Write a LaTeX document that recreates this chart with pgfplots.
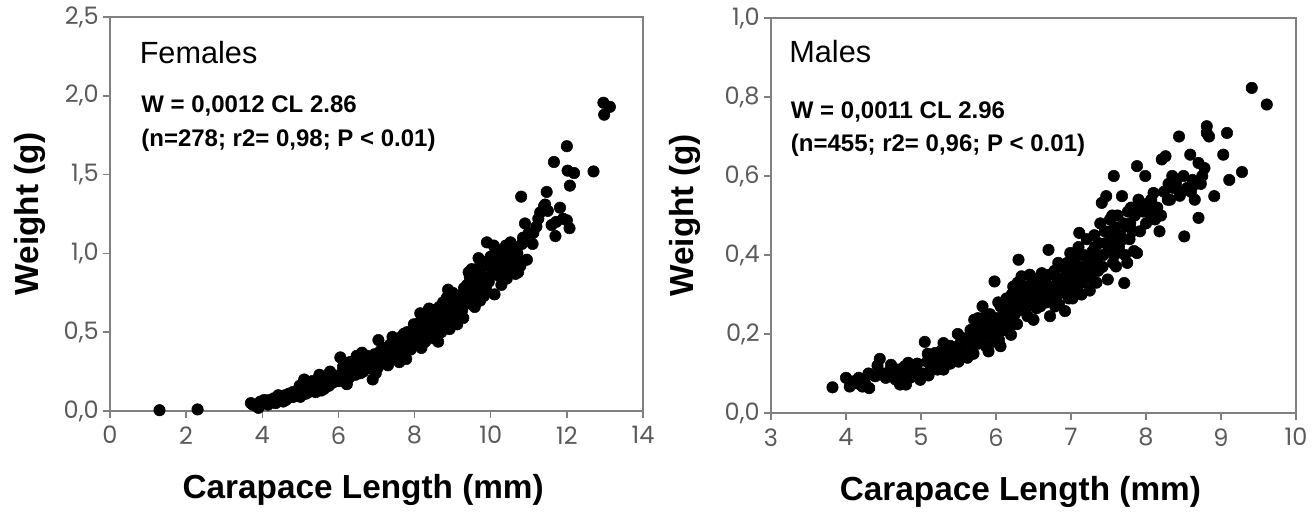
\documentclass[border=0pt]{standalone}
\usepackage{fontspec}
\setmainfont{Liberation Sans}
\newfontfamily\tickfont{Poppins}
\usepackage{pgfplots}
\pgfplotsset{compat=1.18}
\usepackage{pgfplotstable}
\definecolor{axgray}{RGB}{128,128,128}
\definecolor{ticktext}{RGB}{90,90,90}

\pgfplotstableread{
x y
1.3 0.005
2.3 0.01
3.7 0.05
3.75 0.04
3.85 0.03
3.9 0.02
3.95 0.06
4.0 0.05
4.05 0.07
4.1 0.06
4.15 0.04
4.2 0.07
4.25 0.06
4.3 0.08
4.35 0.05
4.4 0.07
4.45 0.09
4.5 0.08
4.55 0.06
4.6 0.10
4.65 0.08
4.7 0.11
4.75 0.09
4.8 0.12
4.85 0.10
4.9 0.11
4.95 0.13
5.0 0.09
5.05 0.12
5.1 0.20
5.12 0.15
5.15 0.11
5.2 0.14
5.25 0.17
5.3 0.13
5.35 0.16
5.4 0.12
5.45 0.18
5.5 0.23
5.52 0.15
5.55 0.13
5.6 0.19
5.65 0.17
5.7 0.21
5.75 0.16
5.8 0.20
5.85 0.18
5.9 0.22
5.95 0.19
6.0 0.21
6.05 0.34
6.08 0.24
6.1 0.20
6.15 0.23
6.2 0.26
6.25 0.22
6.3 0.31
6.35 0.25
6.4 0.28
6.45 0.23
6.5 0.30
6.55 0.27
6.6 0.33
6.65 0.25
6.7 0.29
6.75 0.35
6.8 0.31
6.85 0.27
6.9 0.20
6.92 0.33
6.95 0.36
7.0 0.30
7.05 0.45
7.08 0.34
7.1 0.38
7.15 0.32
7.2 0.40
7.25 0.35
7.3 0.29
7.35 0.42
7.4 0.37
7.45 0.33
7.5 0.44
7.55 0.39
7.6 0.31
7.65 0.47
7.7 0.41
7.75 0.36
7.8 0.50
7.85 0.44
7.9 0.39
7.95 0.48
8.0 0.42
8.05 0.52
8.1 0.46
8.15 0.62
8.2 0.55
8.22 0.43
8.25 0.50
8.3 0.58
8.35 0.47
8.4 0.60
8.45 0.53
8.5 0.64
8.55 0.56
8.6 0.49
8.65 0.66
8.7 0.50
8.72 0.60
8.75 0.69
8.8 0.58
8.85 0.72
8.9 0.63
8.95 0.55
9.0 0.75
9.05 0.67
9.1 0.61
9.15 0.73
9.2 0.70
9.25 0.64
9.3 0.78
9.35 0.68
9.4 0.74
9.45 0.85
9.5 0.90
9.52 0.72
9.55 0.80
9.6 0.76
9.65 0.83
9.7 0.87
9.72 0.70
9.75 0.79
9.8 0.92
9.85 0.85
9.9 1.07
9.92 0.95
9.95 0.82
10.0 0.98
10.05 0.88
10.1 0.74
10.12 1.03
10.15 0.93
10.2 0.86
10.25 1.00
10.3 0.95
10.35 0.89
10.4 1.05
10.45 0.98
10.5 0.91
10.55 1.02
10.6 0.96
10.65 0.87
10.7 1.00
10.75 0.94
10.8 1.36
10.82 1.06
10.85 1.10
10.9 1.19
10.95 0.96
11.0 1.13
11.1 1.06
11.12 1.13
11.2 1.17
11.25 1.22
11.3 1.26
11.4 1.30
11.43 1.31
11.47 1.39
11.5 1.27
11.6 1.18
11.66 1.58
11.7 1.11
11.72 1.20
11.82 1.29
11.9 1.22
12.0 1.68
12.0 1.21
12.02 1.525
12.07 1.16
12.08 1.43
12.19 1.51
12.7 1.52
12.96 1.956
12.98 1.88
13.13 1.93
6.02 0.19
6.12 0.28
6.28 0.21
6.42 0.32
6.58 0.24
6.72 0.34
6.88 0.30
7.02 0.27
7.18 0.36
7.32 0.40
7.48 0.35
7.62 0.43
7.72 0.49
7.88 0.40
8.02 0.47
8.12 0.56
8.28 0.44
8.42 0.52
8.58 0.61
8.68 0.54
8.82 0.66
8.98 0.60
9.08 0.71
9.22 0.66
9.38 0.80
9.48 0.76
9.62 0.90
9.78 0.84
9.88 0.77
10.02 0.91
10.18 0.97
10.32 1.02
10.48 0.95
10.62 1.04
10.78 0.92
4.42 0.10
4.62 0.07
4.82 0.09
5.02 0.14
5.22 0.12
5.42 0.15
5.62 0.14
5.82 0.23
8.52 0.46
8.92 0.52
9.28 0.59
6.62 0.37
6.98 0.24
7.42 0.47
7.78 0.33
8.18 0.40
8.38 0.65
8.62 0.44
8.88 0.77
9.12 0.55
9.42 0.88
9.58 0.66
9.68 0.97
9.82 0.73
10.08 1.05
10.28 0.80
10.52 1.07
10.72 0.88
10.42 0.84
9.02 0.69
8.32 0.53
7.98 0.55
7.58 0.40
7.22 0.30
6.48 0.35
6.22 0.17
5.78 0.25
5.32 0.19
4.98 0.16
}\females

\pgfplotstableread{
x y
3.82 0.065
4.00 0.089
4.05 0.067
4.10 0.080
4.17 0.089
4.22 0.067
4.25 0.078
4.30 0.100
4.31 0.063
4.39 0.093
4.45 0.137
4.50 0.100
4.53 0.089
4.58 0.105
4.60 0.122
4.63 0.095
4.66 0.085
4.69 0.110
4.72 0.072
4.75 0.100
4.78 0.118
4.80 0.072
4.83 0.127
4.86 0.090
4.88 0.105
4.91 0.110
4.95 0.125
4.99 0.084
5.02 0.100
5.05 0.180
5.08 0.130
5.10 0.095
5.13 0.118
5.16 0.140
5.19 0.152
5.22 0.110
5.25 0.125
5.28 0.160
5.30 0.110
5.30 0.177
5.33 0.140
5.36 0.150
5.39 0.125
5.41 0.135
5.44 0.165
5.47 0.145
5.49 0.200
5.50 0.130
5.52 0.175
5.54 0.160
5.57 0.150
5.60 0.185
5.62 0.140
5.65 0.186
5.68 0.165
5.71 0.236
5.73 0.200
5.75 0.175
5.78 0.215
5.80 0.190
5.82 0.270
5.84 0.230
5.86 0.170
5.88 0.210
5.90 0.156
5.92 0.250
5.93 0.203
5.96 0.225
5.98 0.333
6.00 0.240
6.02 0.200
6.04 0.185
6.06 0.270
6.06 0.169
6.08 0.230
6.10 0.255
6.12 0.210
6.14 0.290
6.16 0.240
6.18 0.265
6.20 0.198
6.22 0.280
6.23 0.320
6.25 0.250
6.27 0.300
6.28 0.225
6.30 0.388
6.31 0.270
6.33 0.310
6.34 0.346
6.36 0.260
6.38 0.290
6.40 0.320
6.42 0.245
6.44 0.300
6.46 0.275
6.48 0.330
6.50 0.236
6.50 0.290
6.52 0.310
6.54 0.265
6.56 0.340
6.58 0.295
6.59 0.270
6.61 0.354
6.62 0.310
6.64 0.280
6.66 0.330
6.68 0.300
6.70 0.413
6.71 0.350
6.72 0.245
6.74 0.320
6.76 0.290
6.78 0.360
6.80 0.310
6.82 0.340
6.84 0.275
6.86 0.304
6.88 0.370
6.90 0.330
6.92 0.258
6.94 0.350
6.96 0.310
6.99 0.405
7.00 0.340
7.02 0.290
7.04 0.380
7.06 0.350
7.08 0.312
7.10 0.420
7.11 0.456
7.13 0.370
7.15 0.330
7.17 0.400
7.19 0.360
7.21 0.440
7.23 0.380
7.25 0.310
7.27 0.338
7.29 0.410
7.31 0.450
7.33 0.363
7.35 0.390
7.37 0.430
7.39 0.480
7.41 0.532
7.43 0.400
7.45 0.460
7.47 0.549
7.49 0.338
7.50 0.420
7.52 0.490
7.54 0.440
7.56 0.380
7.57 0.600
7.59 0.470
7.60 0.371
7.62 0.500
7.64 0.420
7.66 0.450
7.68 0.549
7.70 0.480
7.71 0.329
7.72 0.400
7.74 0.473
7.76 0.510
7.78 0.440
7.80 0.520
7.82 0.460
7.85 0.500
7.88 0.625
7.88 0.405
7.90 0.540
7.93 0.520
7.96 0.510
7.99 0.600
8.02 0.530
8.04 0.506
8.07 0.540
8.10 0.557
8.12 0.490
8.15 0.520
8.18 0.460
8.21 0.642
8.24 0.560
8.26 0.650
8.29 0.540
8.32 0.540
8.36 0.570
8.40 0.582
8.44 0.700
8.47 0.560
8.51 0.447
8.55 0.570
8.59 0.654
8.62 0.590
8.66 0.580
8.70 0.633
8.70 0.494
8.73 0.580
8.75 0.600
8.78 0.620
8.81 0.726
8.81 0.709
8.84 0.700
8.91 0.549
9.03 0.654
9.08 0.709
9.11 0.590
9.28 0.610
9.41 0.823
9.61 0.781
5.55 0.190
5.66 0.210
5.76 0.240
5.87 0.250
5.95 0.180
6.03 0.280
6.13 0.260
6.21 0.300
6.29 0.330
6.37 0.280
6.45 0.350
6.53 0.300
6.63 0.330
6.73 0.300
6.83 0.380
6.93 0.320
7.03 0.360
7.12 0.400
7.22 0.350
7.32 0.420
7.42 0.370
7.52 0.460
7.61 0.420
7.69 0.440
7.79 0.480
7.84 0.410
7.58 0.400
7.46 0.430
7.36 0.360
7.26 0.400
7.16 0.340
7.07 0.320
6.97 0.290
6.87 0.340
6.77 0.320
6.67 0.280
6.57 0.320
6.47 0.300
6.39 0.260
6.19 0.220
6.09 0.210
5.09 0.150
5.19 0.120
5.29 0.140
5.39 0.170
4.92 0.120
4.76 0.090
4.62 0.110
4.42 0.120
4.15 0.075
8.00 0.480
8.20 0.500
8.45 0.550
8.60 0.560
8.35 0.600
8.65 0.540
5.85 0.200
6.05 0.220
6.26 0.270
6.41 0.290
6.60 0.300
6.79 0.270
6.95 0.380
7.14 0.300
7.34 0.330
7.55 0.500
7.75 0.380
7.92 0.460
8.08 0.500
8.30 0.580
8.50 0.600
5.70 0.150
5.45 0.140
}\males

\pgfplotsset{
  myax/.style={
    scale only axis,
    anchor=south west,
    clip=false,
    axis line style={axgray, line width=1.1pt},
    every tick/.style={axgray, line width=1.1pt},
    tick align=outside,
    tick pos=left,
    major tick length=5pt,
    /pgf/number format/assume math mode=true,
    tick label style={font=\tickfont\fontsize{18}{18}\selectfont, text=ticktext},
    xticklabel style={yshift=-3pt},
    label style={font=\bfseries\fontsize{25}{25}\selectfont},
    xlabel style={at={(axis description cs:0.475,-0.2)}, anchor=center},
    ylabel style={at={(axis description cs:-0.15,0.5)}, anchor=center, rotate=0},
    xlabel={Carapace Length (mm)},
    ylabel={Weight (g)},
  },
  dots/.style={only marks, mark=*, mark size=4.3pt, mark options={fill=black, draw=black}},
}

\begin{document}
\begin{tikzpicture}
\useasboundingbox (0,0) rectangle (986.25pt,385.5pt);
\begin{axis}[myax,
  at={(82.5pt,77.25pt)},
  width=399.75pt, height=295.5pt,
  xmin=0, xmax=14, ymin=0, ymax=2.5,
  xtick={0,2,4,6,8,10,12,14},
  ytick={0,0.5,1,1.5,2,2.5},
  yticklabels={{0,0},{0,5},{1,0},{1,5},{2,0},{2,5}},
]
\addplot[dots] table {\females};
\node[anchor=west, font=\fontsize{23}{23}\selectfont] at (rel axis cs:0.047,0.911) {Females};
\node[anchor=west, font=\bfseries\fontsize{18}{18}\selectfont] at (rel axis cs:0.05,0.774) {W = 0,0012 CL 2.86};
\node[anchor=west, font=\bfseries\fontsize{18}{18}\selectfont] at (rel axis cs:0.05,0.688) {(n=278; r2= 0,98; P < 0.01)};
\end{axis}
\begin{axis}[myax,
  at={(578.25pt,75.75pt)},
  width=393.75pt, height=296.25pt,
  xmin=3, xmax=10, ymin=0, ymax=1,
  xtick={3,4,5,6,7,8,9,10},
  ytick={0,0.2,0.4,0.6,0.8,1},
  yticklabels={{0,0},{0,2},{0,4},{0,6},{0,8},{1,0}},
  ylabel style={at={(axis description cs:-0.164,0.5)}},
]
\addplot[dots] table {\males};
\node[anchor=west, font=\fontsize{23}{23}\selectfont] at (rel axis cs:0.026,0.914) {Males};
\node[anchor=west, font=\bfseries\fontsize{18}{18}\selectfont] at (rel axis cs:0.029,0.762) {W = 0,0011 CL 2.96};
\node[anchor=west, font=\bfseries\fontsize{18}{18}\selectfont] at (rel axis cs:0.029,0.678) {(n=455; r2= 0,96; P < 0.01)};
\end{axis}
\end{tikzpicture}
\end{document}
